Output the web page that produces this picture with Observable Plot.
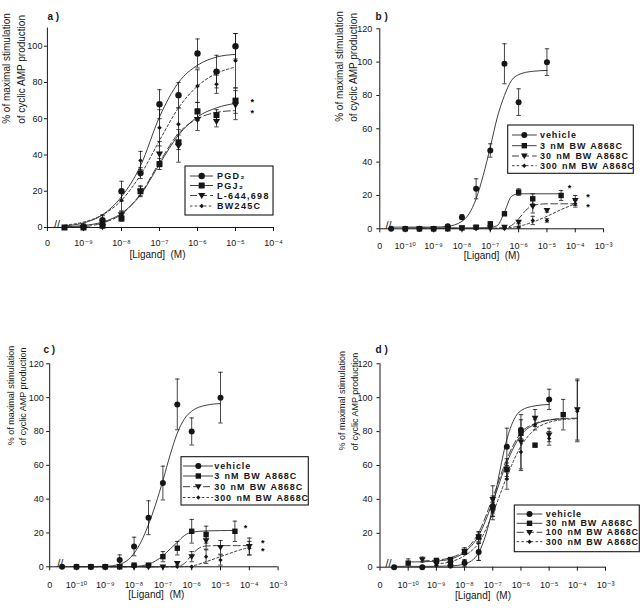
<!DOCTYPE html>
<html><head><meta charset="utf-8">
<script src="https://cdn.jsdelivr.net/npm/d3@7"></script>
<script src="https://cdn.jsdelivr.net/npm/@observablehq/plot@0.6"></script>
<style>
body{margin:0;background:#fff;}
#fig{position:relative;width:640px;height:612px;background:#fff;overflow:hidden;}
.panel{position:absolute;}
</style></head><body><div id="fig"></div>
<script>
// ================= DATA (x values are log10 of ligand concentration, M) =================
// ---- panel a ----
const aPGD2X = [-9,-8.5,-8,-7.5,-7,-6.5,-6,-5.5,-5];
const aPGD2Y = [0.5,4,20,30,68,73,96,86,100];
const aPGD2E = [1,2.5,5.5,3,8,7,8,9,7];
const aPGJ2X = [-9.5,-9,-8.5,-8,-7.5,-7,-6.5,-6,-5.5,-5];
const aPGJ2Y = [0,0,1,5,20,35,47,64,62,70];
const aPGJ2E = [0,0,1,1.5,2.5,3,4,5,3,7];
const aL644X = [-9,-8.5,-8,-7.5,-7,-6.5,-6,-5.5,-5];
const aL644Y = [0,0.5,7,20,40.5,45,59.5,58.5,67.5];
const aL644E = [0,1,2,3,7,9,6,3,8];
const aBW245X = [-9,-8.5,-8,-7.5,-7,-6.5,-6,-5.5,-5];
const aBW245Y = [1,4,15,37,55,57,78,79,92];
const aBW245E = [1,3,6,5,10,9,9,5,15];
const aFitX = [-9.5,-9,-8.5,-8,-7.5,-7,-6.5,-6,-5.5,-5];
const aPGD2Fit = [0.9,2.5,7,17,34,61,80,89.5,94,95.5];
const aPGJ2Fit = [0.4,1.1,3,7.8,18,35,51,61,66,68.5];
const aL644Fit = [0.2,0.5,2.5,7.3,18.5,36,52,60,63.5,64.5];
const aBW245Fit = [1.3,3,7,15,29,48,66,78,85,88.5];
const aStarX = [-4.56,-4.56];
const aStarY = [70.6,64.5];
const aNames = ["PGD\u2082","PGJ\u2082","L-644,698","BW245C"];
const aXTicks = [-9.95,-9,-8,-7,-6,-5,-4];
const aXTickLabels = ["0","10\u207B\u2079","10\u207B\u2078","10\u207B\u2077","10\u207B\u2076","10\u207B\u2075","10\u207B\u2074"];
const aYTicks = [0,20,40,60,80,100];

// ---- panel b ----
const bVehX = [-10.5,-10,-9.5,-9,-8.5,-8,-7.5,-7,-6.5,-6,-5];
const bVehY = [0,0,0,0,1.5,7,24,47,99,76,100];
const bVehE = [0,0,0,0,1,1.5,6,4,12,8,8];
const b3X = [-10,-9.5,-9,-8.5,-8,-7.5,-7,-6.5,-6,-5.5,-4.5];
const b3Y = [0,0,0,0,0.5,1,3,9,22,18,20];
const b3E = [0,0,0,0,0,0.5,1,1,2,3,3];
const b30X = [-9.5,-9,-8.5,-8,-7.5,-7,-6.5,-6,-5.5,-5,-4];
const b30Y = [0,0,0,0.5,0.5,0.5,1,4,13.5,11,17];
const b30E = [0,0,0,0,0,0,0.5,1,4,1,3];
const b300X = [-9,-8.5,-8,-7.5,-7,-6.5,-6,-5.5,-5,-4];
const b300Y = [0,0,0,0,0,0,1,5,5,15];
const b300E = [0,0,0,0,0,0,0.5,2.5,1,2];
const bVehFitX = [-10.5,-10,-9.5,-9,-8.5,-8,-7.75,-7.5,-7.25,-7,-6.75,-6.5,-6.25,-6,-5.5,-5];
const bVehFitY = [1,1,1,1,1.5,4.5,9,18,32,49,67,80,89,92.5,94.5,95];
const b3FitX = [-10,-9,-8,-7.5,-7,-6.75,-6.5,-6.25,-6,-5.5,-5,-4.5];
const b3FitY = [0.5,0.5,0.5,0.5,0.8,2,10,19.5,21,21,21,21];
const b30FitX = [-9.5,-9,-8,-7,-6.5,-6.25,-6,-5.75,-5.5,-5,-4.5,-4];
const b30FitY = [0.3,0.3,0.3,0.3,0.6,2,6,11,14,15,15,15];
const b300FitX = [-9,-8,-7,-6.5,-6,-5.5,-5,-4.5,-4];
const b300FitY = [0.3,0.3,0.3,0.5,1.5,4,7.5,11.5,15];
const bStarX = [-4.2,-3.55,-3.55];
const bStarY = [26,20.6,14.4];
const bNames = ["vehicle","3 nM BW A868C","30 nM BW A868C","300 nM BW A868C"];

// ---- panel c ----
const cVehX = [-10.5,-10,-9.5,-9,-8.5,-8,-7.5,-7,-6.5,-6,-5];
const cVehY = [0,0,0,0,4,12,29,49.5,96,80,100];
const cVehE = [0,0,0,0,3,5.5,10,10,15,8,15];
const c3X = [-10,-9.5,-9,-8.5,-8,-7.5,-7,-6.5,-6,-5.5,-4.5];
const c3Y = [0,0,0,0,1,1,6,11,21,19,21];
const c3E = [0,0,0,0,0.5,0.5,3,4,7,5,6];
const c30X = [-9.5,-9,-8.5,-8,-7.5,-7,-6.5,-6,-5.5,-5,-4];
const c30Y = [0,0,0,0,0,0,2,6,15.5,11.5,12];
const c30E = [0,0,0,0,0,0,1,3,5,4,5];
const c300X = [-9,-8.5,-8,-7.5,-7,-6.5,-6,-5.5,-5,-4];
const c300Y = [0,0,0,0,0,0,0,6,4,11];
const c300E = [0,0,0,0,0,0,0,4,3,4];
const cVehFitX = [-10.5,-9,-8.5,-8,-7.75,-7.5,-7.25,-7,-6.75,-6.5,-6.25,-6,-5.5,-5];
const cVehFitY = [0,0.3,1.5,8,15,25,37,51,66,79,87.5,92,95.5,96.5];
const c3FitX = [-10,-9,-8,-7.5,-7.25,-7,-6.75,-6.5,-6.25,-6,-5.5,-5,-4.5];
const c3FitY = [0,0,0.2,1.5,3.5,6.5,10.5,14.5,18.5,20.5,21.2,21.4,21.5];
const c30FitX = [-9.5,-8,-7,-6.5,-6.25,-6,-5.75,-5.5,-5,-4.5,-4];
const c30FitY = [0,0,0,0.3,2,7,11,12.3,12.5,12.5,12.5];
const c300FitX = [-9,-8,-7,-6.5,-6,-5.5,-5,-4.5,-4];
const c300FitY = [0,0,0,0,0.5,3,6,9,11.5];
const cStarX = [-4.13,-3.53,-3.53];
const cStarY = [24.8,15.6,11];
const cNames = ["vehicle","3 nM BW A868C","30 nM BW A868C","300 nM BW A868C"];

// ---- panel d ----
const dVehX = [-10.5,-9.5,-8.5,-8,-7.5,-7,-6.5,-6,-5];
const dVehY = [0,0,1,2.5,9,36,71,81,99];
const dVehE = [0,0,1,2,5,6,11,6,6];
const d30X = [-10,-9,-8.5,-8,-7.5,-7,-6.5,-6,-5.5,-4.5];
const d30Y = [2.4,4,4.5,9,17.7,35,57.5,79,72,90];
const d30E = [2.5,1,1,1.5,3,5,4,3,1,9];
const d100X = [-9.5,-9,-8.5,-8,-7.5,-7,-6.5,-6,-5.5,-5,-4];
const d100Y = [4.5,2,2,9.5,18,40,58,74,88,78,93];
const d100E = [1.5,1,1,2,3,8,6,16,5,4,18];
const d300X = [-9,-8.5,-8,-7.5,-7,-6.5,-6,-5.5,-5,-4];
const d300Y = [1,0.5,3,9,33,52,68,84,76,92];
const d300E = [1,1,1,5,5,6,11,3,4,18];
const dVehFitX = [-10.5,-9,-8.5,-8,-7.75,-7.5,-7.25,-7,-6.75,-6.5,-6.25,-6,-5.5,-5];
const dVehFitY = [0.5,0.5,0.7,1.9,3.8,8.5,19,35.3,56.7,75.4,87,92.4,95.2,96];
const d30FitX = [-10,-9.5,-9,-8.5,-8,-7.5,-7,-6.5,-6,-5.5,-5,-4.5];
const d30FitY = [3.1,3.2,3.6,4.8,8.9,18.6,38.5,61.8,77.9,84.3,86.8,87.6];
const d100FitX = [-9.5,-9,-8.5,-8,-7.5,-7,-6.5,-6,-5.5,-5,-4.5,-4];
const d100FitY = [3.7,4.2,5.6,9.7,20.4,41,63.8,79.3,84.8,86.9,87.7,87.9];
const d300FitX = [-9,-8.5,-8,-7.5,-7,-6.5,-6,-5.5,-5,-4.5,-4];
const d300FitY = [2,3.2,6.8,14.3,31.7,53.4,71.4,81.3,85.5,87.1,87.6];
const dNames = ["vehicle","30 nM BW A868C","100 nM BW A868C","300 nM BW A868C"];

// ---- shared axis text ----
const bcdXTickLabels = ["0","10\u207B\u00B9\u2070","10\u207B\u2079","10\u207B\u2078","10\u207B\u2077","10\u207B\u2076","10\u207B\u2075","10\u207B\u2074","10\u207B\u00B3"];
const bcdYTicks = [0,20,40,60,80,100,120];
const yTitle = "% of maximal stimulation\nof cyclic AMP production";
const xTitle = "[Ligand]\u00A0 (M)";

// ================= RENDERING =================
const ink = "#161616";
const lineInk = "#2a2a2a";
const FONT = "'Liberation Sans', Arial, 'DejaVu Sans', sans-serif";

const symCircle = d3.symbolCircle;
const symSquare = {draw(ctx, size){const r=Math.sqrt(size/Math.PI); ctx.rect(-r,-r,2*r,2*r);}};
const symTriDown = {draw(ctx, size){const r=Math.sqrt(size/Math.PI); ctx.moveTo(-1.2*r,-0.85*r); ctx.lineTo(1.2*r,-0.85*r); ctx.lineTo(0,1.2*r); ctx.closePath();}};
const symDiamond = {draw(ctx, size){const r=Math.sqrt(size/Math.PI); ctx.moveTo(0,-r); ctx.lineTo(r,0); ctx.lineTo(0,r); ctx.lineTo(-r,0); ctx.closePath();}};
const symCap = {draw(ctx, size){const r=Math.sqrt(size/Math.PI); ctx.moveTo(-r,0); ctx.lineTo(r,0);}};

const pts = (xs, ys, es) => xs.map((x,i)=>({x, y: ys[i], e: es[i]}));
const crv = (xs, ys) => xs.map((x,i)=>({x, y: ys[i]}));
const stars = (xs, ys) => xs.map((x,i)=>({x, y: ys[i]}));

const styles = [
  {symbol: symCircle, dash: null},
  {symbol: symSquare, dash: null},
  {symbol: symTriDown, dash: "7,3"},
  {symbol: symDiamond, dash: "2.5,2.2"}
];

function legendMark(L, series) {
  return () => {
    const g = d3.create("svg:g").attr("aria-label","legend");
    g.append("rect").attr("x",L.box[0]).attr("y",L.box[1])
      .attr("width",L.box[2]-L.box[0]).attr("height",L.box[3]-L.box[1])
      .attr("fill","#fff").attr("stroke",ink).attr("stroke-width",1.1);
    series.forEach((s,i)=>{
      const y = L.rows[i];
      g.append("line").attr("x1",L.line[0]).attr("x2",L.line[1]).attr("y1",y).attr("y2",y)
        .attr("stroke",lineInk).attr("stroke-width",0.9).attr("stroke-dasharray", s.dash);
      g.append("path").attr("transform",`translate(${L.mark},${y})`)
        .attr("d", d3.symbol(s.symbol, Math.PI*s.r*s.r)()).attr("fill",ink);
      g.append("text").attr("x",L.text).attr("y",y).attr("dy","0.35em")
        .attr("text-anchor","start")
        .attr("font-size",L.fs).attr("font-weight","bold").attr("letter-spacing",L.ls)
        .attr("word-spacing",L.ws).attr("fill",ink).attr("font-family",FONT).text(s.name);
    });
    return g.node();
  };
}

function makePanel(c) {
  const x0 = c.xDomain[0];
  const marks = [
    Plot.ruleY([0], {stroke: ink, strokeWidth: 1}),
    Plot.ruleX([x0], {stroke: ink, strokeWidth: 1})
  ];
  for (const s of c.series) {
    marks.push(Plot.line(s.curve, {x:"x", y:"y", stroke: lineInk, strokeWidth: 0.9,
      strokeDasharray: s.dash || undefined, curve: "monotone-x"}));
  }
  for (const s of c.series) {
    const eb = s.points.filter(d => d.e > 0);
    marks.push(Plot.ruleX(eb, {x:"x", y1: d => Math.max(0, d.y - d.e), y2: d => d.y + d.e, stroke: ink, strokeWidth: 0.8}));
    marks.push(Plot.dot(eb, {x:"x", y: d => d.y + d.e, symbol: symCap, r: 2.2, fill: "none", stroke: ink, strokeWidth: 0.8}));
    marks.push(Plot.dot(eb.filter(d => d.y - d.e > 0), {x:"x", y: d => d.y - d.e, symbol: symCap, r: 2.2, fill: "none", stroke: ink, strokeWidth: 0.8}));
  }
  for (const s of c.series) {
    marks.push(Plot.dot(s.points, {x:"x", y:"y", symbol: s.symbol, r: s.r, fill: ink, stroke: "none"}));
  }
  if (c.stars) marks.push(Plot.text(c.stars, {x:"x", y:"y", text: () => "*", fontSize: 9, fontWeight: "bold", dy: 2.8, fill: "#000"}));
  marks.push(Plot.text(["//"], {frameAnchor: "bottom-left", text: d => d, dx: c.brkDx, fontSize: 11, fill: ink}));
  marks.push(Plot.text([c.tag], {frameAnchor: "top-left", text: d => d, dx: c.tagDx, dy: c.tagDy, textAnchor: "start", fontWeight: "bold", fontSize: 10, fill: ink}));
  marks.push(Plot.text([yTitle], {frameAnchor: "left", text: d => d, rotate: -90, dx: c.ylDx, dy: c.ylDy,
    fontSize: c.ylFs, lineHeight: c.ylLh, fill: ink, ariaLabel: "ytitle"}));
  marks.push(Plot.text([xTitle], {frameAnchor: "bottom", text: d => d, dx: c.xlDx, dy: c.xlDy, fontSize: 10, fill: ink, ariaLabel: "xtitle"}));
  marks.push(legendMark(c.legend, c.series));

  const svg = Plot.plot({
    width: 320, height: 306,
    marginLeft: c.m[0], marginRight: c.m[1], marginTop: c.m[2], marginBottom: c.m[3],
    x: {type: "linear", domain: c.xDomain, ticks: c.xTicks,
        tickFormat: d => c.xTickLabels[c.xTicks.indexOf(d)], tickSize: 4, tickPadding: c.xPad, label: null},
    y: {domain: [0, c.yMax], ticks: c.yTicks, tickSize: 3, tickPadding: c.yPad, label: null},
    style: {fontFamily: FONT, fontSize: "9px", color: ink, background: "transparent", overflow: "visible"},
    marks
  });
  d3.select(svg).selectAll('g[aria-label="ytitle"] text').attr("letter-spacing", c.ylLs);
  d3.select(svg).selectAll('g[aria-label="xtitle"] text').attr("letter-spacing", 0.3);
  const div = document.createElement("div");
  div.className = "panel";
  div.style.left = c.left + "px";
  div.style.top = c.top + "px";
  div.appendChild(svg);
  document.getElementById("fig").appendChild(div);
}

function build(names, pointSets, curveSets, radii) {
  return names.map((name, i) => ({
    name, symbol: styles[i].symbol, dash: styles[i].dash, r: radii[i],
    points: pointSets[i], curve: curveSets[i]
  }));
}

// panel a
makePanel({
  left: 0, top: 0, tag: "a )",
  m: [46.9, 47, 27.6, 79], xDomain: [-9.95, -4], yMax: 110,
  xTicks: aXTicks, xTickLabels: aXTickLabels, yTicks: aYTicks, xPad: 8, yPad: 2,
  series: build(aNames,
    [pts(aPGD2X,aPGD2Y,aPGD2E), pts(aPGJ2X,aPGJ2Y,aPGJ2E), pts(aL644X,aL644Y,aL644E), pts(aBW245X,aBW245Y,aBW245E)],
    [crv(aFitX,aPGD2Fit), crv(aFitX,aPGJ2Fit), crv(aFitX,aL644Fit), crv(aFitX,aBW245Fit)],
    [3.2, 3, 3, 2.3]),
  stars: stars(aStarX, aStarY),
  brkDx: 6.5, tagDx: 0, tagDy: -15.6,
  ylDx: -34.3, ylDy: -4, ylFs: 10, ylLh: 1.45, ylLs: 0.8,
  xlDx: -3, xlDy: 30,
  legend: {box: [185,166,273,215], rows: [176,185.5,195.5,206], line: [190,213], mark: 201.7, text: 217, fs: 9, ls: 1.3, ws: 0}
});

// panel b
makePanel({
  left: 320, top: 0, tag: "b )",
  m: [59.3, 36.9, 28.3, 77.7], xDomain: [-10.9, -3], yMax: 120,
  xTicks: [-10.9,-10,-9,-8,-7,-6,-5,-4,-3], xTickLabels: bcdXTickLabels, yTicks: bcdYTicks, xPad: 10, yPad: 4.5,
  series: build(bNames,
    [pts(bVehX,bVehY,bVehE), pts(b3X,b3Y,b3E), pts(b30X,b30Y,b30E), pts(b300X,b300Y,b300E)],
    [crv(bVehFitX,bVehFitY), crv(b3FitX,b3FitY), crv(b30FitX,b30FitY), crv(b300FitX,b300FitY)],
    [3, 2.7, 2.8, 2.2]),
  stars: stars(bStarX, bStarY),
  brkDx: 5.7, tagDx: -4.3, tagDy: -16.3,
  ylDx: -34.3, ylDy: -7, ylFs: 10, ylLh: 1.4, ylLs: 0.5,
  xlDx: 0, xlDy: 30,
  legend: {box: [187.7,125,313.3,173.3], rows: [135,145.7,156,165.7], line: [192,216.7], mark: 204.3, text: 220, fs: 9, ls: 0.9, ws: 1}
});

// panel c
makePanel({
  left: 0, top: 306, tag: "c )",
  m: [49.2, 42.4, 57.3, 45.7], xDomain: [-10.93, -3], yMax: 120,
  xTicks: [-10.93,-10,-9,-8,-7,-6,-5,-4,-3], xTickLabels: bcdXTickLabels, yTicks: bcdYTicks, xPad: 11, yPad: 3,
  series: build(cNames,
    [pts(cVehX,cVehY,cVehE), pts(c3X,c3Y,c3E), pts(c30X,c30Y,c30E), pts(c300X,c300Y,c300E)],
    [crv(cVehFitX,cVehFitY), crv(c3FitX,c3FitY), crv(c30FitX,c30FitY), crv(c300FitX,c300FitY)],
    [3, 2.7, 2.8, 2.2]),
  stars: stars(cStarX, cStarY),
  brkDx: 7.5, tagDx: -6.2, tagDy: -18.3,
  ylDx: -33.3, ylDy: -20, ylFs: 9, ylLh: 1.3, ylLs: 0.15,
  xlDx: -7.6, xlDy: 31,
  legend: {box: [181,150.7,308.3,199], rows: [160,170,180.7,191.5], line: [183,213], mark: 198.3, text: 214.3, fs: 9, ls: 0.9, ws: 1}
});

// panel d
makePanel({
  left: 320, top: 306, tag: "d )",
  m: [59.5, 35, 57.3, 45.3], xDomain: [-11, -3], yMax: 120,
  xTicks: [-11,-10,-9,-8,-7,-6,-5,-4,-3], xTickLabels: bcdXTickLabels, yTicks: bcdYTicks, xPad: 10, yPad: 4.5,
  series: build(dNames,
    [pts(dVehX,dVehY,dVehE), pts(d30X,d30Y,d30E), pts(d100X,d100Y,d100E), pts(d300X,d300Y,d300E)],
    [crv(dVehFitX,dVehFitY), crv(d30FitX,d30FitY), crv(d100FitX,d100FitY), crv(d300FitX,d300FitY)],
    [3, 2.7, 2.8, 2.2]),
  stars: null,
  brkDx: 5.5, tagDx: -4.5, tagDy: -18.3,
  ylDx: -32.7, ylDy: -15, ylFs: 9, ylLh: 1.45, ylLs: 0.15,
  xlDx: -9.8, xlDy: 31.3,
  legend: {box: [194.3,199,319.3,245.7], rows: [208,217.3,226.3,235.7], line: [196.7,222.3], mark: 209.5, text: 225.7, fs: 9, ls: 0.8, ws: 1}
});
</script>
</body></html>
